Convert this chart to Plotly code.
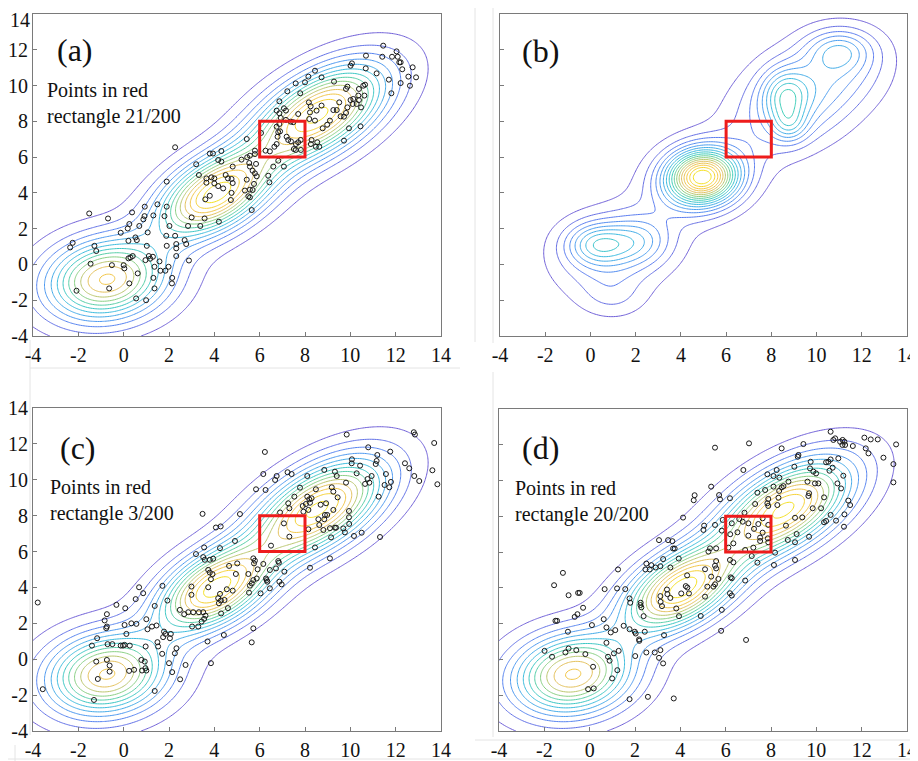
import numpy as np
import plotly.graph_objects as go

# page body adds an 8px margin, so the figure is drawn 8px smaller and shifted
OFF = 8
W, H = 918 - OFF, 761 - OFF

# ---------------- tick labels ----------------
tick_vals = [-4, -2, 0, 2, 4, 6, 8, 10, 12, 14]
tick_text = ['-4', '-2', '0', '2', '4', '6', '8', '10', '12', '14']

# ---------------- density model for panels (a), (c), (d) ----------------
mix_h = [0.85, 1.00, 1.00]
mix_cx = [-0.75, 4.0, 8.6]
mix_cy = [-0.85, 3.9, 8.4]
mix_s1 = [1.85, 2.05, 2.45]
mix_s2 = [1.50, 1.20, 1.30]
mix_ang = [20, 42, 42]

# ---------------- density estimate shown in panel (b) ----------------
b_h = [0.25, 0.17, 0.20, 0.08, 0.80, 0.20, 0.25, 0.18, 0.28, 0.20, 0.08]
b_cx = [0.2, 2.1, 1.0, 1.0, 4.95, 4.8, 8.6, 8.8, 9.3, 11.0, 11.3]
b_cy = [1.15, 1.3, 0.7, -1.8, 4.9, 4.7, 9.5, 7.8, 9.3, 12.0, 11.2]
b_s1 = [0.9, 1.0, 1.75, 1.0, 1.05, 1.8, 0.7, 0.55, 2.2, 1.0, 1.3]
b_s2 = [0.8, 0.9, 1.45, 0.85, 1.00, 1.3, 1.0, 0.7, 1.5, 0.8, 1.3]
b_ang = [0, 0, 30, 0, 20, 40, 0, 0, 45, 0, 0]

# ---------------- sample points ----------------
a_points = [
    (2.27, 6.55), (3.8, 6.2), (3.94, 6.2), (4.31, 6.34), (4.17, 5.84), (4.31, 5.75), (3.2, 5.6), (3.32, 5.0),
    (3.65, 4.81), (3.87, 4.87), (4.0, 4.81), (4.5, 5.0), (4.6, 4.81), (3.65, 4.57), (4.0, 4.53), (4.17, 4.38),
    (4.39, 4.25), (3.6, 3.64), (3.8, 3.84), (1.9, 4.63), (3.0, 2.63), (3.57, 2.57), (4.2, 2.39), (2.84, 2.15),
    (3.38, 2.15), (-1.52, 2.85), (-0.69, 2.57), (0.37, 2.91), (0.93, 3.23), (1.49, 3.36), (1.9, 3.23), (1.8, 2.7),
    (0.92, 2.7), (0.87, 2.52), (1.31, 2.74), (0.25, 2.26), (0.69, 2.15), (0.18, 2.01), (-0.13, 1.77), (1.06, 1.79),
    (2.02, 2.15), (1.88, 1.6), (2.27, 1.6), (2.69, 1.36), (2.76, 1.14), (2.32, 1.14), (1.9, 1.04), (0.52, 1.51),
    (0.58, 1.36), (0.21, 1.32), (1.02, 1.04), (2.88, 0.22), (2.32, 0.9), (2.32, 0.47), (-2.36, 0.95), (-2.25, 1.21),
    (-1.29, 1.04), (-1.21, 0.75), (0.21, 0.34), (0.3, 0.39), (0.4, 0.47), (1.11, 0.47), (1.17, 0.32), (1.29, 0.43),
    (0.96, 0.24), (0.0, -0.04), (0.03, -0.22), (-0.52, -0.04), (-1.46, 0.04), (1.58, 0.17), (1.36, -0.13),
    (0.62, -0.5), (1.98, -0.13), (1.84, -0.35), (1.62, -0.35), (1.31, -0.75), (2.14, -0.75), (2.13, -1.06),
    (0.25, -1.06), (1.36, -1.34), (-0.64, -1.34), (-2.08, -1.47), (0.55, -1.9), (0.99, -2.0),
    (11.45, 12.23), (10.69, 11.67), (11.41, 11.61), (11.84, 11.61), (12.04, 11.91), (12.09, 11.61), (12.16, 11.3),
    (12.22, 11.3), (12.29, 10.91), (12.75, 11.02), (12.56, 10.5), (12.9, 10.46), (12.63, 9.99), (12.22, 10.14),
    (11.81, 9.57), (11.16, 10.68), (11.7, 10.33), (10.68, 10.96), (10.07, 11.24), (10.01, 11.11), (8.73, 10.46),
    (8.44, 10.83), (8.15, 10.5), (8.0, 10.18), (7.59, 10.12), (7.22, 9.68), (7.79, 9.57), (6.87, 9.12), (9.28, 10.22),
    (9.87, 9.94), (9.81, 9.81), (10.38, 9.81), (10.57, 9.99), (10.65, 10.05), (10.62, 9.44), (10.35, 9.44),
    (10.13, 9.25), (10.01, 9.19), (10.1, 8.97), (10.28, 8.97), (10.47, 8.78), (10.38, 9.19), (9.51, 9.06),
    (9.25, 8.63), (9.4, 8.63), (9.87, 8.78), (9.81, 8.47), (9.72, 8.26), (9.57, 8.28), (9.1, 8.04), (8.98, 7.81),
    (8.78, 7.61), (10.45, 7.72), (9.94, 7.61), (9.72, 6.92), (8.73, 8.88), (8.17, 9.06), (8.25, 8.84), (8.51, 8.6),
    (8.44, 8.04), (8.19, 8.13), (8.22, 8.5), (7.07, 8.73), (7.16, 8.6), (6.75, 8.6), (6.87, 8.45), (7.7, 8.41),
    (7.48, 7.95), (7.37, 7.98), (7.16, 8.08), (6.93, 8.19), (6.87, 7.85), (6.75, 7.7), (6.82, 7.39), (6.9, 7.44),
    (6.06, 7.35), (6.79, 7.14), (7.19, 7.14), (7.26, 6.96), (7.38, 6.88), (7.81, 6.96), (7.7, 6.83), (7.6, 6.73),
    (7.51, 6.45), (7.59, 6.4), (7.82, 6.4), (6.75, 6.73), (6.65, 6.58), (6.45, 6.32), (6.26, 6.36), (8.29, 6.96),
    (8.26, 6.73), (8.54, 6.83), (8.48, 6.58), (8.63, 6.58), (5.43, 7.01), (5.79, 6.36), (5.57, 6.08), (5.79, 6.17),
    (6.82, 5.8), (6.6, 5.47), (7.07, 5.47), (5.2, 5.86), (5.45, 5.99), (5.54, 5.67), (5.57, 5.47), (5.84, 5.62),
    (5.69, 5.24), (5.79, 5.09), (5.87, 4.93), (6.38, 4.96), (6.43, 4.59), (5.43, 4.74), (5.35, 4.13), (5.57, 4.18),
    (5.69, 4.16), (5.5, 3.81), (5.57, 3.75), (5.75, 4.5), (5.65, 3.04), (4.81, 5.47), (4.76, 4.78), (4.81, 4.55),
    (4.76, 4.0), (4.73, 3.6),
]

c_points = [
    (3.48, 8.1), (4.07, 7.34), (4.28, 7.4), (4.25, 6.19), (3.55, 6.23), (3.19, 5.86), (3.51, 5.69), (3.58, 5.54),
    (3.8, 5.54), (3.95, 5.6), (3.73, 4.98), (3.8, 4.83), (3.92, 4.74), (3.85, 4.46), (3.73, 4.01), (4.25, 3.64),
    (4.17, 3.4), (4.29, 3.27), (4.2, 3.12), (2.99, 4.05), (2.99, 3.59), (2.48, 2.75), (2.85, 2.62), (3.07, 2.62),
    (3.32, 2.62), (3.51, 2.62), (3.61, 2.43), (3.55, 2.25), (3.44, 2.1), (2.67, 2.51), (3.02, 1.82), (3.29, 1.82),
    (3.7, 0.99), (3.85, -0.22), (1.71, 4.09), (0.68, 4.01), (0.86, 3.68), (0.53, 3.35), (0.07, 2.84), (-0.32, 3.03),
    (1.37, 2.97), (1.93, 3.27), (-0.74, 2.51), (-0.84, 2.16), (-0.77, 1.73), (-0.74, 1.82), (0.04, 1.91),
    (0.34, 2.0), (0.56, 1.97), (1.0, 2.23), (1.25, 1.82), (1.05, 1.67), (1.45, 1.88), (1.78, 1.54), (1.84, 1.41),
    (2.08, 1.41), (1.74, 1.23), (1.49, 0.95), (1.52, 0.71), (1.7, 0.3), (2.04, 1.17), (2.33, 0.61), (2.26, 0.33),
    (0.12, 1.41), (0.04, 0.8), (0.27, 0.76), (-0.71, 0.84), (-0.5, 0.84), (-0.13, 0.76), (-0.03, 0.76),
    (-1.17, 1.17), (-1.4, 0.76), (0.97, 0.71), (-1.21, -0.13), (-0.74, -0.04), (-0.62, -0.35), (-0.62, -0.69),
    (-1.14, -1.1), (-1.31, -2.27), (0.24, -0.65), (0.46, -0.59), (0.78, -0.04), (0.93, -0.13), (0.81, -0.63),
    (1.0, -0.63), (0.96, -0.5), (1.37, -1.77), (2.0, -0.22), (2.14, -0.72), (2.49, -1.12), (2.73, -0.32),
    (-3.79, 3.16), (-3.57, -1.67), (4.65, 5.2), (4.55, 3.9), (4.45, 3.3), (4.6, 2.85), (4.42, 1.35), (4.3, 2.55),
    (9.84, 12.52), (12.8, 12.65), (12.85, 12.52), (13.7, 12.05), (6.23, 11.55), (10.79, 11.81), (11.19, 11.38),
    (11.16, 11.05), (11.12, 10.88), (11.76, 11.57), (10.07, 11.14), (10.06, 10.92), (10.43, 10.79), (12.41, 10.92),
    (12.6, 10.64), (12.82, 10.21), (13.04, 9.93), (13.62, 10.53), (13.84, 9.75), (11.57, 10.32), (11.79, 9.88),
    (11.72, 9.58), (11.51, 9.71), (11.25, 9.06), (10.94, 10.21), (10.76, 10.04), (10.65, 9.77), (10.84, 9.84),
    (10.28, 10.36), (9.81, 9.84), (9.32, 10.45), (9.4, 10.21), (8.85, 10.55), (8.1, 10.21), (7.78, 9.56),
    (8.48, 9.47), (9.18, 9.58), (9.25, 9.34), (9.44, 9.02), (9.25, 8.32), (7.23, 10.42), (7.41, 10.32),
    (6.75, 10.21), (6.68, 9.99), (6.16, 10.32), (5.84, 9.47), (6.26, 9.43), (7.53, 9.06), (7.26, 8.69),
    (7.31, 8.41), (8.1, 9.06), (8.19, 8.91), (8.29, 8.97), (8.22, 8.72), (8.04, 8.65), (8.15, 8.32), (7.9, 8.54),
    (7.93, 8.22), (8.69, 8.61), (8.93, 8.69), (8.88, 8.04), (8.98, 8.04), (8.59, 7.8), (8.85, 7.8), (8.63, 7.48),
    (8.81, 7.2), (9.1, 7.3), (9.32, 7.33), (9.37, 7.33), (9.15, 6.79), (9.1, 5.62), (9.94, 8.26), (9.94, 7.91),
    (9.95, 7.54), (9.69, 7.29), (9.76, 7.07), (10.16, 6.87), (10.5, 7.05), (11.31, 6.81), (8.15, 7.24),
    (8.44, 6.23), (8.22, 5.1), (6.9, 8.18), (7.07, 7.57), (7.31, 6.83), (6.5, 6.33), (5.13, 8.09), (4.91, 6.59),
    (6.82, 5.47), (6.85, 5.38), (7.09, 4.88), (6.87, 4.32), (6.97, 4.17), (6.31, 4.41), (6.34, 4.32), (6.28, 4.5),
    (6.45, 3.95), (6.04, 3.67), (6.72, 5.06), (6.45, 4.97), (6.16, 5.31), (5.91, 5.01), (5.72, 5.62), (5.79, 5.49),
    (5.75, 5.34), (5.5, 4.75), (5.72, 4.41), (5.65, 4.23), (5.57, 4.1), (5.53, 3.71), (5.87, 4.5), (5.01, 5.34),
    (4.95, 4.75), (4.81, 3.82), (5.72, 1.72), (5.65, 0.94),
]

d_points = [
    (4.63, 9.18), (4.59, 8.9), (4.12, 7.93), (3.06, 6.67), (3.46, 6.67), (3.65, 6.61), (3.68, 6.2), (3.75, 6.2),
    (2.5, 5.36), (2.46, 5.03), (2.65, 5.03), (2.91, 5.14), (3.12, 5.21), (2.72, 5.27), (3.24, 5.61), (3.56, 5.14),
    (3.93, 5.64), (1.25, 5.03), (-1.18, 4.84), (-1.57, 4.15), (-0.93, 3.59), (-0.51, 3.72), (-0.44, 3.72),
    (0.66, 3.93), (1.21, 3.97), (1.57, 3.93), (1.76, 3.41), (1.79, 3.17), (2.25, 3.17), (2.24, 3.04), (2.28, 2.91),
    (3.41, 3.91), (3.43, 3.65), (3.56, 3.44), (3.12, 3.54), (3.13, 3.22), (4.04, 3.69), (4.24, 4.1), (4.31, 4.02),
    (4.38, 3.69), (3.82, 2.85), (3.19, 2.98), (3.94, 2.42), (2.38, 2.42), (-0.29, 2.89), (-0.54, 2.53),
    (-0.66, 2.38), (-1.51, 2.16), (-1.44, 2.16), (-0.96, 1.55), (0.1, 1.92), (0.62, 2.25), (0.74, 1.79),
    (0.93, 1.51), (1.13, 1.64), (1.5, 1.88), (1.76, 1.69), (1.99, 1.55), (2.03, 1.45), (2.18, 1.12), (2.19, 1.04),
    (2.43, 1.55), (3.28, 1.36), (0.74, 0.93), (-1.99, 0.48), (-1.66, 0.15), (-1.07, 0.39), (-0.93, 0.61),
    (-0.59, 0.52), (-0.19, 0.3), (0.81, 0.15), (0.88, -0.07), (1.07, 0.34), (1.28, 0.48), (1.22, -0.6),
    (0.99, -1.06), (0.15, -0.41), (-0.07, -1.66), (0.18, -1.62), (2.01, 0.19), (2.5, 0.39), (2.87, 0.39),
    (3.12, 0.52), (3.06, 0.09), (3.24, -0.22), (1.76, -2.22), (2.57, -2.09), (3.71, -2.18), (4.3, 4.7),
    (10.63, 12.73), (10.75, 12.27), (10.83, 12.36), (11.05, 12.17), (11.16, 12.27), (11.24, 12.17), (11.27, 11.99),
    (11.61, 11.93), (11.15, 11.99), (12.12, 12.4), (12.4, 12.3), (12.71, 12.3), (13.52, 12.02), (12.18, 11.8),
    (12.3, 11.52), (12.96, 11.28), (13.4, 10.92), (13.4, 9.9), (5.53, 11.84), (7.03, 12.08), (8.47, 11.8),
    (9.43, 12.04), (9.21, 11.43), (9.18, 11.33), (6.78, 10.59), (5.36, 9.66), (5.71, 9.19), (5.75, 8.95),
    (6.19, 9.01), (10.53, 11.05), (10.63, 11.18), (10.97, 11.24), (10.43, 11.02), (10.58, 10.55), (10.72, 10.72),
    (9.75, 11.05), (9.72, 10.68), (9.87, 10.5), (9.99, 10.4), (10.09, 9.84), (9.94, 9.84), (9.03, 10.77),
    (8.25, 10.59), (8.11, 10.25), (8.37, 10.16), (7.84, 10.35), (8.77, 9.94), (8.55, 9.69), (8.47, 9.62),
    (8.36, 9.42), (8.33, 9.04), (8.28, 8.63), (8.11, 9.66), (7.74, 9.47), (7.4, 9.32), (7.3, 8.69), (7.88, 8.97),
    (7.84, 8.73), (7.88, 8.58), (9.61, 9.94), (9.68, 9.29), (9.65, 9.14), (10.93, 9.84), (11.09, 9.56),
    (11.19, 10.27), (10.34, 9.06), (9.84, 8.45), (10.21, 8.45), (11.41, 8.88), (11.49, 8.63), (11.24, 8.11),
    (10.63, 8.08), (10.43, 7.74), (10.34, 7.67), (10.87, 7.76), (11.22, 7.42), (9.38, 7.94), (9.06, 7.92),
    (8.66, 7.48), (9.13, 7.01), (9.06, 6.55), (8.74, 6.68), (9.68, 6.86), (8.18, 5.97), (8.13, 5.28), (9.06, 5.56),
    (6.27, 7.61), (6.52, 7.11), (6.75, 7.7), (7.0, 7.61), (7.44, 7.57), (7.63, 7.89), (7.88, 7.52), (7.63, 7.09),
    (7.52, 6.81), (7.52, 6.62), (7.86, 6.77), (7.88, 6.55), (7.0, 6.92), (6.34, 6.49), (6.12, 6.25), (6.86, 6.12),
    (7.22, 6.25), (6.6, 7.85), (7.25, 7.3), (6.2, 7.0),
    (5.83, 7.2), (5.87, 7.8), (6.83, 8.2), (5.53, 7.52), (5.05, 7.48), (5.02, 7.24), (5.31, 6.21), (5.58, 6.21),
    (5.24, 6.03), (6.19, 5.56), (6.34, 5.43), (7.15, 5.78), (7.4, 5.41), (5.58, 5.5), (5.53, 5.24), (5.58, 5.09),
    (5.09, 5.04), (5.36, 4.63), (5.68, 4.5), (5.19, 4.07), (5.46, 4.07), (5.53, 4.2), (6.22, 4.59), (6.27, 4.54),
    (6.86, 4.41), (6.19, 3.7), (6.27, 3.57), (5.09, 3.51), (4.9, 2.43), (5.83, 2.77), (5.8, 1.6), (6.9, 1.09),
]

panel_labels = ['(a)', '(b)', '(c)', '(d)']
count_texts = ['Points in red<br>rectangle 21/200', None,
               'Points in red<br>rectangle 3/200', 'Points in red<br>rectangle 20/200']
rect_lo, rect_hi = 6, 8

# ---------------- styling ----------------
parula_light = [[0.0, '#6f5fd8'], [0.125, '#5a7cf0'], [0.25, '#4b9ef0'], [0.375, '#3cbbe0'],
                [0.5, '#3ccdb8'], [0.625, '#8fd080'], [0.75, '#e0c060'], [0.875, '#f8c840'], [1.0, '#f4e020']]
serif = 'Liberation Serif'

gx = np.linspace(-4, 14, 241)
gy = np.linspace(-4, 14, 241)


def field(h, cx, cy, s1, s2, ang):
    X, Y = np.meshgrid(gx, gy)
    Z = np.zeros_like(X)
    for hk, xk, yk, a, b, t in zip(h, cx, cy, s1, s2, ang):
        th = np.deg2rad(t)
        dx, dy = X - xk, Y - yk
        u = dx * np.cos(th) + dy * np.sin(th)
        v = -dx * np.sin(th) + dy * np.cos(th)
        Z += hk * np.exp(-0.5 * ((u / a) ** 2 + (v / b) ** 2))
    return Z


def contour_trace(Z, n, lo, hi, ax):
    zmax = Z.max()
    start, end = lo * zmax, hi * zmax
    return go.Contour(x=gx, y=gy, z=Z, xaxis='x' + ax, yaxis='y' + ax,
                      contours=dict(coloring='lines', start=start, end=end, size=(end - start) / (n - 1)),
                      line=dict(width=1), colorscale=parula_light, zmin=start, zmax=end,
                      showscale=False, hoverinfo='skip')


def px2paper_x(p):
    return (p - OFF) / W


def px2paper_y(p):
    return 1 - (p - OFF) / H


Zmix = field(mix_h, mix_cx, mix_cy, mix_s1, mix_s2, mix_ang)
Zb = field(b_h, b_cx, b_cy, b_s1, b_s2, b_ang)

fig = go.Figure()
axes = ['', '2', '3', '4']
fig.add_trace(contour_trace(Zmix, 14, 0.055, 0.95, ''))
fig.add_trace(contour_trace(Zb, 17, 0.045, 0.94, '2'))
fig.add_trace(contour_trace(Zmix, 14, 0.055, 0.95, '3'))
fig.add_trace(contour_trace(Zmix, 14, 0.055, 0.95, '4'))

for pts, ax in [(a_points, ''), (c_points, '3'), (d_points, '4')]:
    xs = [p[0] for p in pts]
    ys = [p[1] for p in pts]
    fig.add_trace(go.Scatter(x=xs, y=ys, mode='markers', xaxis='x' + ax, yaxis='y' + ax,
                             marker=dict(symbol='circle-open', size=5, color='#1a1a1a', line=dict(width=1)),
                             hoverinfo='skip', showlegend=False))

# plot boxes in page pixels
boxes = {'': (33, 441, 14, 336), '2': (500, 907, 14, 336), '3': (33, 441, 408, 731), '4': (499, 907, 409, 731)}
show_ylabels = {'': True, '2': False, '3': True, '4': False}

layout = dict(width=W, height=H, margin=dict(l=0, r=0, t=0, b=0, autoexpand=False), paper_bgcolor='white',
              plot_bgcolor='white', showlegend=False)
for ax, (x0, x1, y0, y1) in boxes.items():
    common = dict(range=[-4, 14], tickmode='array', tickvals=tick_vals,
                  showline=True, mirror=True, linecolor='#7a7a7a', linewidth=1,
                  ticks='inside', ticklen=4, tickcolor='#7a7a7a', showgrid=False, zeroline=False,
                  tickfont=dict(family=serif, size=20, color='#111'), fixedrange=True, automargin=False,
                  ticklabeloverflow='allow')
    # the top-left "14" sits at the page edge; it is drawn as a separate text so it stays inside
    ytext = tick_text[:-1] + [''] if ax == '' else tick_text
    layout['xaxis' + ax] = dict(common, domain=[px2paper_x(x0), px2paper_x(x1)], ticktext=tick_text,
                                anchor='y' + ax, ticklabelstandoff=1)
    layout['yaxis' + ax] = dict(common, domain=[px2paper_y(y1), px2paper_y(y0)], ticktext=ytext,
                                anchor='x' + ax, showticklabels=show_ylabels[ax], ticklabelstandoff=0)
fig.update_layout(**layout)

fig.add_annotation(x=px2paper_x(31), y=1, xref='paper', yref='paper', text=tick_text[-1], showarrow=False,
                   xanchor='right', yanchor='top', font=dict(family=serif, size=20, color='#111'),
                   borderpad=0)

for ax in axes:
    fig.add_shape(type='rect', xref='x' + ax, yref='y' + ax, x0=rect_lo, x1=rect_hi, y0=rect_lo, y1=rect_hi,
                  line=dict(color='#ee1c1c', width=3), fillcolor='rgba(0,0,0,0)', layer='above')

label_pos = [(-2.15, 12.0), (-2.2, 11.93), (-2.0, 11.77), (-2.15, 11.82)]
text_pos = [(-3.47, 9.0), None, (-3.34, 8.82), (-3.38, 8.83)]
for ax, lab, lp, txt, tp in zip(axes, panel_labels, label_pos, count_texts, text_pos):
    fig.add_annotation(x=lp[0], y=lp[1], xref='x' + ax, yref='y' + ax, text=lab, showarrow=False,
                       font=dict(family=serif, size=32, color='#111'), xanchor='center', yanchor='middle')
    if txt:
        fig.add_annotation(x=tp[0], y=tp[1], xref='x' + ax, yref='y' + ax, text=txt, showarrow=False,
                           align='left', font=dict(family=serif, size=20, color='#111'),
                           xanchor='left', yanchor='middle')

sep = [((30, 340), (30, 735)), ((30, 368), (460, 368)), ((493, 8), (493, 343)), ((475, 8), (475, 342)),
       ((493, 372), (493, 737)), ((475, 740), (918, 740)), ((15, 745), (15, 761)), ((8, 759), (918, 759))]
for (xa, ya), (xb, yb) in sep:
    fig.add_shape(type='line', xref='paper', yref='paper', x0=px2paper_x(xa), y0=px2paper_y(ya),
                  x1=px2paper_x(xb), y1=px2paper_y(yb), line=dict(color='#e4e4e4', width=1), layer='below')

fig.write_html('out.html')
